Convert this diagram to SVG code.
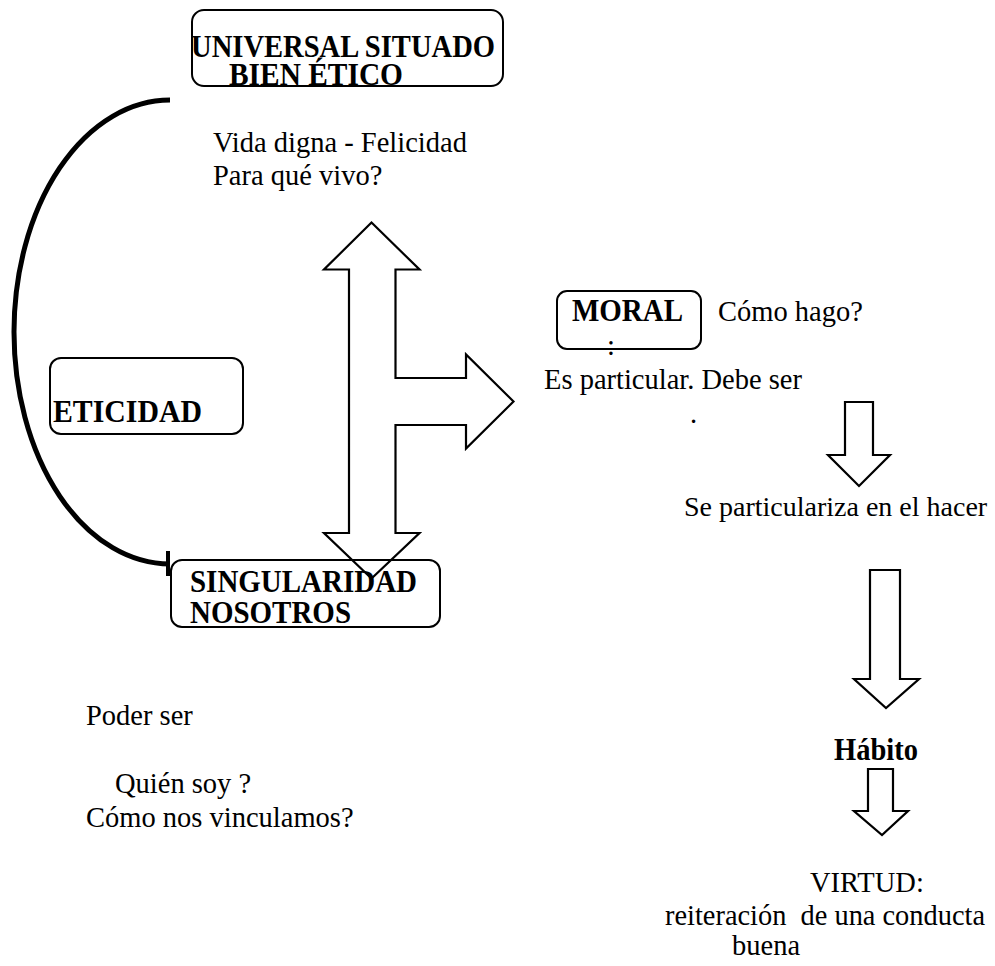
<svg xmlns="http://www.w3.org/2000/svg" width="995" height="966" viewBox="0 0 995 966">
  <style>
    text { font-family: "Liberation Serif", "Times New Roman", serif; font-size: 28.5px; fill: #000; }
    .b { font-weight: bold; font-size: 31px; }
    .box { fill: none; stroke: #000; stroke-width: 2; }
    .arrow { fill: #fff; stroke: #000; stroke-width: 2.2; stroke-linejoin: miter; }
    .curve { fill: none; stroke: #000; stroke-width: 5; }
  </style>
  <rect width="995" height="966" fill="#fff"/>

  <!-- connectors: bracket curve, T-shaped block arrow and the right-hand down arrows -->
  <g id="connectors">
    <path class="curve" d="M170,100 A156,232 0 0 0 170,564"/>
    <line x1="168" y1="551" x2="168" y2="576" stroke="#000" stroke-width="4"/>
    <polygon class="arrow" points="371.5,222.5 419.5,269.5 395.5,269.5 395.5,378 466,378 466,354.5 513.5,401.5 466,448.5 466,425 395.5,425 395.5,533 419.5,533 371.5,578.5 324,533 349,533 349,269.5 324,269.5"/>
    <polygon class="arrow" points="845,402 873,402 873,455 890,455 859,486 828,455 845,455"/>
    <polygon class="arrow" points="870,570 900,570 900,679 919,679 886,708 854,679 870,679"/>
    <polygon class="arrow" points="868,769 893,769 893,811 908,811 882,835 854,811 868,811"/>
  </g>

  <g id="universal">
    <rect class="box" x="192" y="10" width="311" height="76" rx="12"/>
    <text class="b" x="191" y="57" textLength="304" lengthAdjust="spacingAndGlyphs">UNIVERSAL SITUADO</text>
    <text class="b" x="229" y="85" textLength="174" lengthAdjust="spacingAndGlyphs">BIEN ÉTICO</text>
  </g>

  <g id="vida">
    <text x="213" y="152">Vida digna - Felicidad</text>
    <text x="213" y="185">Para qué vivo?</text>
  </g>

  <g id="eticidad">
    <rect class="box" x="50" y="358" width="193" height="76" rx="11"/>
    <text class="b" x="53" y="422" textLength="149" lengthAdjust="spacingAndGlyphs">ETICIDAD</text>
  </g>

  <g id="singularidad">
    <rect class="box" x="171" y="560" width="269" height="67" rx="11"/>
    <text class="b" x="190" y="592" textLength="227" lengthAdjust="spacingAndGlyphs">SINGULARIDAD</text>
    <text class="b" x="190" y="623" textLength="161" lengthAdjust="spacingAndGlyphs">NOSOTROS</text>
  </g>

  <g id="moral">
    <rect class="box" x="557" y="291" width="144" height="58" rx="10"/>
    <text class="b" x="572" y="321" textLength="111" lengthAdjust="spacingAndGlyphs">MORAL</text>
    <text x="718" y="321">Cómo hago?</text>
    <text x="607" y="355">:</text>
    <text x="544" y="389">Es particular. Debe ser</text>
    <text x="690" y="423">.</text>
  </g>

  <g id="hacer">
    <text x="684" y="516" style="font-size:28px">Se particulariza en el hacer</text>
  </g>

  <g id="habito">
    <text class="b" x="834" y="760" textLength="84" lengthAdjust="spacingAndGlyphs">Hábito</text>
  </g>

  <g id="virtud">
    <text x="810" y="892">VIRTUD:</text>
    <text x="665" y="925" xml:space="preserve" textLength="320" lengthAdjust="spacingAndGlyphs">reiteración  de una conducta</text>
    <text x="732" y="955">buena</text>
  </g>

  <g id="nosotros-texto">
    <text x="86" y="725">Poder ser</text>
    <text x="115" y="793">Quién soy ?</text>
    <text x="86" y="827">Cómo nos vinculamos?</text>
  </g>
</svg>
